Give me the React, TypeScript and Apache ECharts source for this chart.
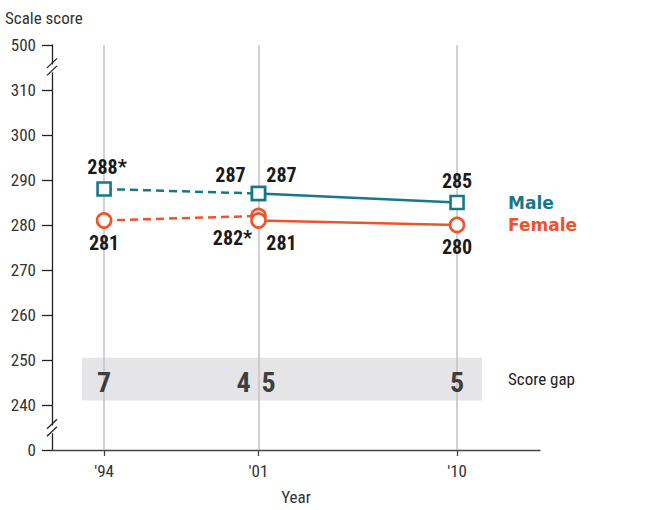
import React, { useEffect, useRef } from 'react';
import * as echarts from 'echarts';

// ---- data ----
const years = [1994, 2001, 2010];
const yearLabels = ["'94", "'01", "'10"];
// 1994–2001 (dashed) and 2001–2010 (solid) segments
const maleEarlyYears = [1994, 2001];
const maleEarly = [288, 287];
const maleEarlySig = [true, false];
const maleLateYears = [2001, 2010];
const maleLate = [287, 285];
const femaleEarlyYears = [1994, 2001];
const femaleEarly = [281, 282];
const femaleEarlySig = [false, true];
const femaleLateYears = [2001, 2010];
const femaleLate = [281, 280];
const gapYears = [1994, 2001, 2001, 2010];
const gaps = [7, 4, 5, 5];
// axis break: bottom value shown as 0, top value shown as 500
const yBreakLabels: Record<number, string> = { 230: '0', 320: '500' };

const TEAL = '#17788a';
const ORANGE = '#f0532a';
const COND = '"Roboto Condensed", "DejaVu Sans Condensed", sans-serif';
const BOLD = '"DejaVu Sans", sans-serif';

const X_MIN = 1991.64;
const X_MAX = 2013.76;

export default function App() {
  const ref = useRef<HTMLDivElement>(null);
  useEffect(() => {
    if (!ref.current) return;
    const chart = echarts.init(ref.current, undefined, { renderer: 'svg' });

    const valLabel = {
      show: true,
      fontFamily: COND,
      fontWeight: 'bold' as const,
      fontSize: 20,
      color: '#1a1a1a',
    };

    const maleEarlyData = maleEarlyYears.map((y, i) => ({
      value: [y, maleEarly[i]],
      label: {
        ...valLabel,
        formatter: maleEarly[i] + (maleEarlySig[i] ? '*' : ''),
        position: 'top',
        distance: 4,
        offset: i === 0 ? [3, 0] : [-28, 3],
      },
    }));
    const maleLateData = maleLateYears.map((y, i) => ({
      value: [y, maleLate[i]],
      label: {
        ...valLabel,
        formatter: String(maleLate[i]),
        position: 'top',
        distance: 4,
        offset: i === 0 ? [23, 3] : [0, 0],
      },
    }));
    const femaleEarlyData = femaleEarlyYears.map((y, i) => ({
      value: [y, femaleEarly[i]],
      label: {
        ...valLabel,
        formatter: femaleEarly[i] + (femaleEarlySig[i] ? '*' : ''),
        position: 'bottom',
        distance: 4,
        offset: i === 0 ? [0, 0] : [-26, 0],
      },
    }));
    const femaleLateData = femaleLateYears.map((y, i) => ({
      value: [y, femaleLate[i]],
      label: {
        ...valLabel,
        formatter: String(femaleLate[i]),
        position: 'bottom',
        distance: 4,
        offset: i === 0 ? [23, 0] : [0, 0],
      },
    }));
    const gapOffsets = [[0, 0], [-15, 0], [10, 0], [0, 0]];
    const gapData = gapYears.map((y, i) => ({
      value: [y, 245, gaps[i]],
      label: {
        show: true,
        position: 'inside',
        formatter: String(gaps[i]),
        offset: gapOffsets[i],
        fontFamily: COND,
        fontWeight: 'bold' as const,
        fontSize: 28,
        color: '#111111',
      },
    }));

    const lineCommon = (color: string, symbol: string, dashed: boolean) => ({
      type: 'line' as const,
      z: 3,
      symbol,
      symbolSize: symbol === 'rect' ? 13 : 14,
      showAllSymbol: true,
      lineStyle: { color, width: 2.5, type: dashed ? [8, 5] : 'solid' },
      itemStyle: { color: '#ffffff', borderColor: color, borderWidth: 2.6 },
      emphasis: { disabled: true },
    });

    const option: any = {
      animation: false,
      grid: { left: 52, right: 109, top: 45, bottom: 60 },
      xAxis: {
        type: 'value',
        min: X_MIN,
        max: X_MAX,
        name: 'Year',
        nameLocation: 'middle',
        nameGap: 38,
        nameTextStyle: { fontFamily: COND, fontSize: 17, color: '#333' },
        axisLine: { show: true, lineStyle: { color: '#444', width: 1.3 } },
        axisTick: {
          show: true,
          customValues: years,
          length: 6,
          lineStyle: { color: '#444', width: 1.3 },
        },
        axisLabel: {
          customValues: years,
          formatter: (v: number) => yearLabels[years.indexOf(Math.round(v))] ?? '',
          margin: 12,
          fontFamily: COND,
          fontSize: 17,
          color: '#333',
        },
        splitLine: { show: false },
      },
      yAxis: {
        type: 'value',
        min: 230,
        max: 320,
        interval: 10,
        name: 'Scale score',
        nameLocation: 'end',
        nameGap: 19,
        nameTextStyle: {
          fontFamily: COND,
          fontSize: 17,
          color: '#333',
          align: 'left',
          padding: [0, 0, 0, -47],
        },
        axisLine: { show: true, lineStyle: { color: '#222', width: 1.3 } },
        axisTick: { show: true, length: 10, lineStyle: { color: '#222', width: 1.3 } },
        axisLabel: {
          margin: 16,
          fontFamily: COND,
          fontSize: 17,
          color: '#333',
          formatter: (v: number) => yBreakLabels[v] ?? String(v),
        },
        splitLine: { show: false },
      },
      series: [
        {
          name: 'frame',
          type: 'scatter',
          z: 1,
          symbolSize: 0,
          data: [],
          silent: true,
          markArea: {
            silent: true,
            z: 1,
            itemStyle: { color: '#e5e5e8' },
            label: {
              show: true,
              position: 'right',
              distance: 26,
              formatter: 'Score gap',
              fontFamily: COND,
              fontSize: 17,
              color: '#222',
            },
            data: [[{ xAxis: 1993.0, yAxis: 241 }, { xAxis: 2011.13, yAxis: 250.5 }]],
          },
          markLine: {
            silent: true,
            z: 1.5,
            symbol: ['none', 'none'],
            label: { show: false },
            lineStyle: { color: '#c2c2c2', width: 1.5, type: 'solid' },
            data: years.map((y) => ({ xAxis: y })),
          },
        },
        {
          name: 'gap',
          type: 'scatter',
          z: 2,
          symbolSize: 0,
          data: gapData,
          silent: true,
        },
        {
          name: 'Male',
          ...lineCommon(TEAL, 'rect', true),
          data: maleEarlyData,
        },
        {
          name: 'Female',
          ...lineCommon(ORANGE, 'circle', true),
          data: femaleEarlyData,
        },
        {
          name: 'Male',
          ...lineCommon(TEAL, 'rect', false),
          data: maleLateData,
          endLabel: {
            show: true,
            formatter: 'Male',
            distance: 51,
            fontFamily: BOLD,
            fontWeight: 'bold',
            fontSize: 17,
            color: TEAL,
          },
        },
        {
          name: 'Female',
          ...lineCommon(ORANGE, 'circle', false),
          data: femaleLateData,
          endLabel: {
            show: true,
            formatter: 'Female',
            distance: 51,
            fontFamily: BOLD,
            fontWeight: 'bold',
            fontSize: 17,
            color: ORANGE,
          },
        },
      ],
    };
    chart.setOption(option);

    // axis break marks
    const breakMark = (val: number) => {
      const p = chart.convertToPixel({ gridIndex: 0 }, [X_MIN, val]) as number[];
      const cx = p[0];
      const cy = p[1];
      return [
        {
          type: 'rect',
          shape: { x: cx - 3, y: cy - 4, width: 6, height: 8 },
          style: { fill: '#ffffff' },
          z: 50,
        },
        {
          type: 'line',
          shape: { x1: cx - 5, y1: cy - 0.5, x2: cx + 5, y2: cy - 10 },
          style: { stroke: '#222', lineWidth: 1.3 },
          z: 51,
        },
        {
          type: 'line',
          shape: { x1: cx - 5, y1: cy + 7, x2: cx + 5, y2: cy - 2.5 },
          style: { stroke: '#222', lineWidth: 1.3 },
          z: 51,
        },
      ];
    };
    chart.setOption({ graphic: [...breakMark(314.8), ...breakMark(234.6)] });

    return () => chart.dispose();
  }, []);
  return (
    <div
      ref={ref}
      style={{ position: 'fixed', left: 0, top: 0, width: 649, height: 510, background: '#fff' }}
    />
  );
}
